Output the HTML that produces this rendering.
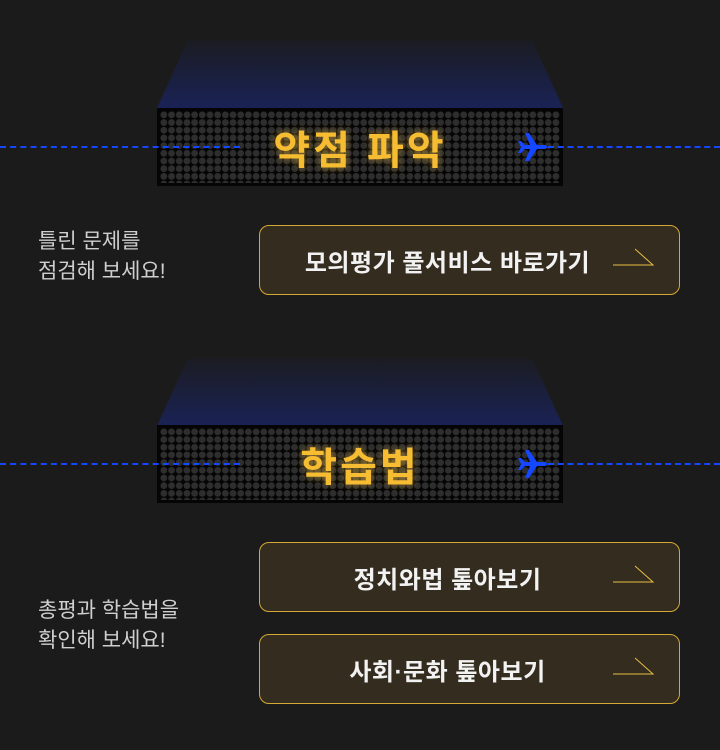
<!DOCTYPE html>
<html><head><meta charset="utf-8"><style>
body{margin:0;width:720px;height:750px;background:#1b1b1b;position:relative;overflow:hidden;font-family:"Liberation Sans","Noto Sans CJK KR",sans-serif}
.trap{position:absolute;left:157px;width:406px;height:68px;clip-path:polygon(31px 0,375px 0,406px 100%,0 100%);background:linear-gradient(#1b1c22,#1a2255)}
.board{position:absolute;left:157px;width:406px;height:78px;background:#050505;}
.dots{position:absolute;left:3px;top:3px;right:3px;bottom:3px;background-image:radial-gradient(circle,#2e2e2e 3.1px,transparent 3.6px);background-size:7.7px 7.7px}
.led{position:absolute;left:0;right:0;top:0;bottom:0;display:flex;align-items:center;justify-content:center;color:#f6bd33;font-weight:bold;font-size:40px;letter-spacing:3px;text-shadow:0 0 8px rgba(246,189,51,.6)}
.dash{position:absolute;height:0;border-top:2px dashed #1447ff}
.plane{position:absolute}
.btn{position:absolute;left:259px;width:421px;height:70px;border:1px solid #d4a834;border-radius:10px;background:#332c1f;color:#f2f2f2;font-weight:bold;font-size:24px;letter-spacing:0.5px;display:flex;align-items:center;justify-content:center;box-sizing:border-box;padding-right:44px}
.btn svg{position:absolute;right:24px;top:22px}
.txt{position:absolute;left:38px;color:#cfcfcf;font-size:21px;line-height:30px}
</style></head><body>
<div class="trap" style="top:40px"></div>
<div class="board" style="top:108px"><div class="dots"></div><div class="led">약점 파악</div></div>
<div class="dash" style="left:0;width:240px;top:146px"></div>
<div class="dash" style="left:548px;width:172px;top:146px"></div>
<svg class="plane" style="left:516px;top:132px" width="32" height="30" viewBox="0 0 32 30"><path d="M2 9L5 9L9 13L14 13L9 1L13 1L21 13L29 13Q33 15 29 17L21 17L13 29L9 29L14 17L9 17L5 21L2 21L5 15Z" fill="#1447ff"/></svg>

<div class="txt" style="top:227px">틀린 문제를<br>점검해 보세요!</div>
<div class="btn" style="top:225px">모의평가 풀서비스 바로가기<svg width="42" height="20"><path d="M0 17H40L22 1" fill="none" stroke="#e8c040" stroke-width="1"/></svg></div>

<div class="trap" style="top:358px"></div>
<div class="board" style="top:425px"><div class="dots"></div><div class="led">학습법</div></div>
<div class="dash" style="left:0;width:240px;top:463px"></div>
<div class="dash" style="left:548px;width:172px;top:463px"></div>
<svg class="plane" style="left:516px;top:449px" width="32" height="30" viewBox="0 0 32 30"><path d="M2 9L5 9L9 13L14 13L9 1L13 1L21 13L29 13Q33 15 29 17L21 17L13 29L9 29L14 17L9 17L5 21L2 21L5 15Z" fill="#1447ff"/></svg>

<div class="txt" style="top:596px">총평과 학습법을<br>확인해 보세요!</div>
<div class="btn" style="top:542px">정치와법 톺아보기<svg width="42" height="20"><path d="M0 17H40L22 1" fill="none" stroke="#e8c040" stroke-width="1"/></svg></div>
<div class="btn" style="top:634px">사회·문화 톺아보기<svg width="42" height="20"><path d="M0 17H40L22 1" fill="none" stroke="#e8c040" stroke-width="1"/></svg></div>
</body></html>
